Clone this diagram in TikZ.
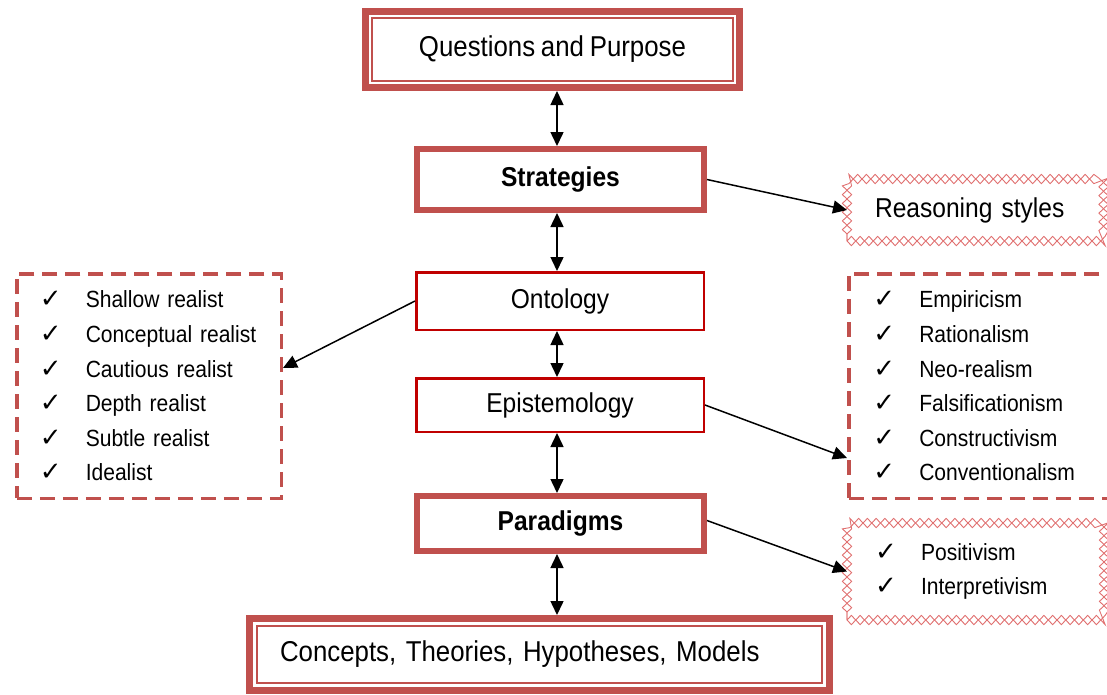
\documentclass[tikz,border=0pt]{standalone}
\usepackage{fontspec}
\setmainfont{Liberation Sans}[FakeStretch=0.9, WordSpace=0.8]
\newfontfamily\symfont{DejaVu Sans}
\usetikzlibrary{arrows.meta,decorations.pathmorphing,calc}

\definecolor{accentred}{HTML}{C0504D}
\definecolor{deepred}{HTML}{C00000}
\definecolor{stitch}{HTML}{E07070}

% check mark followed by a fixed gap before the item text
\newcommand{\ckmark}{\makebox[46pt][l]{\symfont\fontsize{26}{26}\selectfont ✓}}

\begin{document}
\begin{tikzpicture}[x=1pt,y=-1pt,
  bigbox/.style={draw=accentred, line width=7pt, fill=white,
    font=\fontsize{28.7}{28.7}\selectfont},
  keybox/.style={draw=accentred, line width=6pt, fill=white,
    font=\bfseries\fontsize{27.3}{27.3}\selectfont},
  plainbox/.style={draw=deepred, line width=2.5pt, fill=white,
    font=\fontsize{27.3}{27.3}\selectfont},
  listbox/.style={draw=accentred, line width=3.5pt, dash pattern=on 15pt off 8pt,
    anchor=north west, align=left, font=\fontsize{23.4}{34.6}\selectfont},
  stitchbox/.style={anchor=north west, outer sep=0pt, align=left,
    preaction={draw=stitch, line width=0.9pt, decorate,
      decoration={zigzag, amplitude=4.6pt, segment length=17.5pt}},
    postaction={draw=stitch, line width=0.9pt, decorate,
      decoration={zigzag, amplitude=-4.6pt, segment length=17.5pt}}},
  innerline/.style={draw=accentred, line width=1.2pt},
  link/.style={-{Triangle[length=14pt,width=13pt]}, line width=1.5pt},
  dlink/.style={{Triangle[length=14pt,width=13pt]}-{Triangle[length=14pt,width=13pt]}, line width=1.5pt}
]
\useasboundingbox (0,0) rectangle (1107,694);
\clip (0,0) rectangle (1107,694);

% central column
\node[bigbox, minimum width=374pt, minimum height=76pt] (q) at (552.5,49.5) {Questions and Purpose};
\node[keybox, minimum width=287pt, minimum height=61pt] (s) at (560.5,179.5) {Strategies};
\node[plainbox, minimum width=287.5pt, minimum height=57.5pt] (o) at (560,301) {Ontology};
\node[plainbox, minimum width=287.5pt, minimum height=53.5pt] (e) at (560,405) {Epistemology};
\node[keybox, minimum width=287pt, minimum height=55pt] (p) at (560.5,523.5) {Paradigms};
\node[bigbox, minimum height=72pt, text width=519pt, inner xsep=30.5pt, align=left] (b) at (539.5,654.5)
  {Concepts, Theories, Hypotheses, Models};

% thin inner frames of the two end boxes
\draw[innerline] ([shift={(10,10)}]q.north west) rectangle ([shift={(-10,-10)}]q.south east);
\draw[innerline] ([shift={(11,11)}]b.north west) rectangle ([shift={(-11,-11)}]b.south east);

% side boxes
\node[listbox, minimum height=224.5pt, text width=218.5pt, inner xsep=23pt] (ont) at (15,272)
  {\ckmark Shallow realist\\ \ckmark Conceptual realist\\ \ckmark Cautious realist\\
   \ckmark Depth realist\\ \ckmark Subtle realist\\ \ckmark Idealist};
\node[listbox, minimum height=224.5pt, text width=251.5pt, inner xsep=24.5pt] (epi) at (847,272)
  {\ckmark Empiricism\\ \ckmark Rationalism\\ \ckmark Neo-realism\\
   \ckmark Falsificationism\\ \ckmark Constructivism\\ \ckmark Conventionalism};
\node[stitchbox, minimum height=62pt, text width=200.5pt, inner xsep=28pt,
  font=\fontsize{27.3}{27.3}\selectfont] (rs) at (847,179) {Reasoning styles};
\node[stitchbox, minimum height=97pt, text width=201pt, inner xsep=28pt,
  font=\fontsize{23.4}{34.6}\selectfont] (par) at (847,523)
  {\ckmark Positivism\\ \ckmark Interpretivism};

% vertical links along the column
\coordinate (axis) at (557,0);
\draw[dlink] (q.south -| axis) -- (s.north -| axis);
\draw[dlink] (s.south -| axis) -- (o.north -| axis);
\draw[dlink] (o.south -| axis) -- (e.north -| axis);
\draw[dlink] (e.south -| axis) -- (p.north -| axis);
\draw[dlink] (p.south -| axis) -- (b.north -| axis);

% links to the side boxes
\draw[link] (s.east) -- (rs.west);
\draw[link] (o.west) -- ([yshift=18pt]ont.east);
\draw[link] (e.east) -- ([yshift=-72pt]epi.west);
\draw[link] ([yshift=3pt]p.east) -- (par.west);
\end{tikzpicture}
\end{document}
